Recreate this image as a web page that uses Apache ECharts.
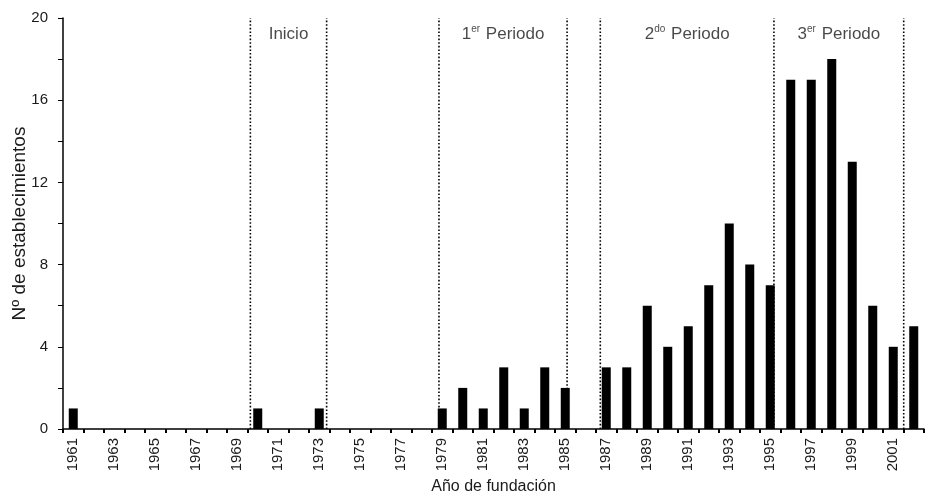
<!DOCTYPE html>
<html>
<head>
<meta charset="utf-8">
<script src="https://cdn.jsdelivr.net/npm/echarts@6/dist/echarts.min.js"></script>
<style>html,body{margin:0;padding:0;background:#fff}#c{width:927px;height:503px}</style>
</head>
<body>
<div id="c"></div>
<script>
const years = [];
for (let y = 1961; y <= 2002; y++) years.push(String(y));
const counts = [1,0,0,0,0,0,0,0,0,1,0,0,1,0,0,0,0,0,1,2,1,3,1,3,2,0,3,3,6,4,5,7,10,8,7,17,17,18,13,6,4,5];
const yTicks = [0,4,8,12,16,20];
const dividers = [1969.64, 1973.36, 1978.84, 1985.09, 1986.71, 1995.18, 2001.51];
const periods = [
  {base:'Inicio', sup:'', at:1971.5},
  {base:'1', sup:'er', rest:' Periodo', at:1981.97},
  {base:'2', sup:'do', rest:' Periodo', at:1990.95},
  {base:'3', sup:'er', rest:' Periodo', at:1998.35}
];
const FONT = 'Liberation Sans';
const TXT = '#1a1a1a';
const chart = echarts.init(document.getElementById('c'));
const series = [{
  type:'bar', xAxisIndex:0, yAxisIndex:0, data:counts, barWidth:9,
  itemStyle:{color:'#000'}, silent:true
}];
dividers.forEach(d => series.push({
  type:'line', xAxisIndex:1, yAxisIndex:0, data:[[d,0],[d,20]], symbol:'none',
  lineStyle:{color:'#000', width:1.6, type:[1.6,2]}, silent:true, z:3
}));
series.push({
  type:'scatter', xAxisIndex:1, yAxisIndex:0, symbolSize:0, silent:true,
  data: periods.map(p => ({value:[p.at, 19.25], p})),
  label:{show:true, position:'inside', fontFamily:FONT, fontSize:17, color:TXT,
    formatter: (prm) => { const p = prm.data.p; return p.sup ? '{b|'+p.base+'}{s|'+p.sup+'}{b|'+p.rest+'}' : '{b|'+p.base+'}'; },
    rich:{
      b:{fontFamily:FONT, fontSize:17, color:TXT, lineHeight:19, verticalAlign:'bottom'},
      s:{fontFamily:FONT, fontSize:10, color:TXT, lineHeight:19, verticalAlign:'top', padding:[0,1,0,0]}
    }
  }
});
chart.setOption({
  animation:false,
  grid:{left:63, right:3, top:18, bottom:74, containLabel:false, outerBoundsMode:'none'},
  xAxis:[{
    type:'category', data:years, boundaryGap:true,
    axisLine:{lineStyle:{color:'#000', width:1.5}},
    axisTick:{show:true, length:4, alignWithLabel:false, interval:0, lineStyle:{color:'#000', width:2}},
    axisLabel:{interval:1, rotate:90, fontFamily:FONT, fontSize:15, color:TXT, margin:9},
    name:'Año de fundación', nameLocation:'middle', nameGap:50, nameMoveOverlap:false,
    nameTextStyle:{fontFamily:FONT, fontSize:16, color:TXT}
  },{
    type:'value', min:1960.5, max:2002.5, show:false
  }],
  yAxis:{
    type:'value', min:0, max:20, interval:2,
    axisLine:{show:true, lineStyle:{color:'#000', width:1.5}},
    axisTick:{show:true, length:5, lineStyle:{color:'#000', width:1}},
    splitLine:{show:false},
    axisLabel:{fontFamily:FONT, fontSize:15, color:TXT, margin:15,
      formatter: v => yTicks.includes(v) ? String(v) : ''},
    name:'Nº de establecimientos', nameLocation:'middle', nameGap:34, nameMoveOverlap:false,
    nameTextStyle:{fontFamily:FONT, fontSize:19, color:TXT}
  },
  series
});
</script>
</body>
</html>
